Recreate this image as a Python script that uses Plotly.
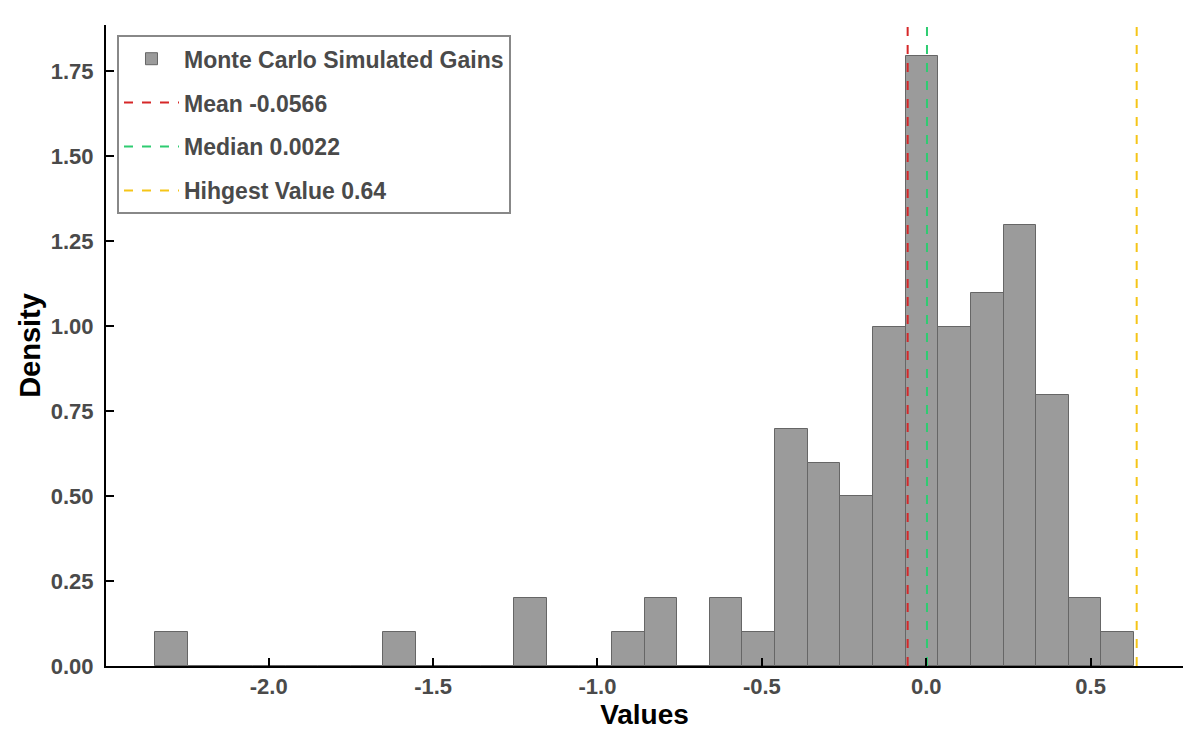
import numpy as np
import plotly.graph_objects as go

# histogram of simulated gains: 30 equal bins between the min and max sample
bin_lo = -2.346
bin_hi = 0.632
bin_counts = [1, 0, 0, 0, 0, 0, 0, 1, 0, 0,
              0, 2, 0, 0, 1, 2, 0, 2, 1, 7,
              6, 5, 10, 18, 10, 11, 13, 8, 2, 1]

mean_val = -0.0566
median_val = 0.0022
highest_val = 0.64

x_ticks = [-2.0, -1.5, -1.0, -0.5, 0.0, 0.5]
x_tick_labels = ["-2.0", "-1.5", "-1.0", "-0.5", "0.0", "0.5"]
y_ticks = [0, 0.25, 0.5, 0.75, 1.0, 1.25, 1.5, 1.75]
y_tick_labels = ["0.00", "0.25", "0.50", "0.75", "1.00", "1.25", "1.50", "1.75"]

edges = np.linspace(bin_lo, bin_hi, len(bin_counts) + 1)
width = edges[1] - edges[0]
centers = (edges[:-1] + edges[1:]) / 2
counts = np.array(bin_counts, dtype=float)
density = counts / (counts.sum() * width)

span = bin_hi - bin_lo
x_range = [bin_lo - 0.05 * span, bin_hi + 0.05 * span]
y_top = density.max() * 1.05

font_family = "Liberation Sans, Arial, sans-serif"
tick_color = "#4a4a4a"

fig = go.Figure()

fig.add_trace(go.Bar(
    x=centers,
    y=density,
    width=width,
    name="Monte Carlo Simulated Gains",
    marker=dict(color="#9b9b9b", line=dict(color="#666666", width=1)),
    legendgroup="g1",
))

lines = [
    (mean_val, f"Mean {mean_val}", "#d62728", "g2"),
    (median_val, f"Median {median_val}", "#2ecc71", "g3"),
    (highest_val, f"Hihgest Value {highest_val}", "#f5c518", "g4"),
]
for val, label, color, grp in lines:
    fig.add_trace(go.Scatter(
        x=[val, val],
        y=[0, y_top],
        mode="lines",
        name=label,
        line=dict(color=color, width=2, dash="9px,9px"),
        legendgroup=grp,
    ))

# page body adds an 8px offset, margins compensate for it
fig.update_layout(
    width=1200,
    height=743,
    paper_bgcolor="white",
    plot_bgcolor="white",
    bargap=0,
    margin=dict(l=98, r=25, t=17, b=85),
    font=dict(family=font_family, weight="bold", color=tick_color),
    legend=dict(
        x=0.0102, y=0.984, xanchor="left", yanchor="top",
        bordercolor="#888888", borderwidth=2,
        bgcolor="white",
        font=dict(size=23, color=tick_color, family=font_family, weight="bold"),
        traceorder="grouped",
        tracegroupgap=11,
        itemwidth=55,
    ),
    xaxis=dict(
        range=x_range,
        tickvals=x_ticks,
        ticktext=x_tick_labels,
        ticks="inside", ticklen=8, tickwidth=1.5, tickcolor="black",
        showline=True, linecolor="black", linewidth=2,
        showgrid=False, zeroline=False,
        tickfont=dict(size=22, color=tick_color, family=font_family, weight="bold"),
        title=dict(text="Values", standoff=6,
                   font=dict(size=28, color="black", family=font_family, weight="bold")),
    ),
    yaxis=dict(
        range=[0, y_top],
        tickvals=y_ticks,
        ticktext=y_tick_labels,
        ticks="inside", ticklen=8, tickwidth=1.5, tickcolor="black",
        ticklabelstandoff=6,
        showline=True, linecolor="black", linewidth=2,
        showgrid=False, zeroline=False,
        tickfont=dict(size=22, color=tick_color, family=font_family, weight="bold"),
        title=dict(text="Density", standoff=2,
                   font=dict(size=29, color="black", family=font_family, weight="bold")),
    ),
)

fig.write_html("out.html")
